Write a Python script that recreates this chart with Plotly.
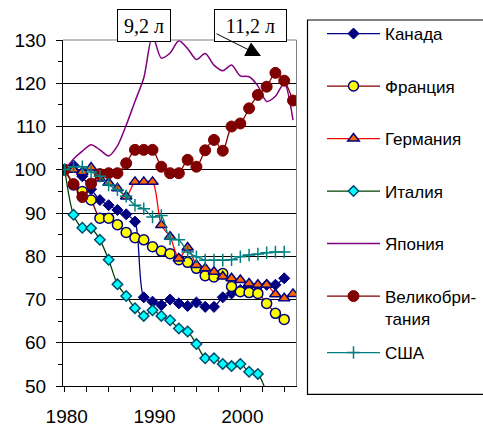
import plotly.graph_objects as go

years = list(range(1980, 2007))

canada = [100, 101, 98.5, 95.5, 93, 91.8, 90.7, 89.7, 88, 70.5, 69.5, 68.7, 70, 69.1,
          68.5, 69.3, 68.3, 68.3, 70.5, 71.4, 72.2, 73, 73, 73.4, 73.4, 74.9, None]
france = [100, 96.5, 95, 93, 88.8, 88.8, 87.3, 85.5, 84.3, 83.8, 82.2, 81.2, 80.6, 79.2,
          78.6, 77.2, 75.5, 75.2, 76, 73, 71.8, 71.6, 71.4, 69.1, 66.8, 65.4, None]
germany = [100, 100, 99.5, 100.5, 98, 97, 95.7, 93.8, 97.2, 97.2, 97.2, 87.2, 84.5, 79.5,
           82, 78, 77.2, 76.4, 75.3, 74.9, 74.5, 73.7, 73.4, 73.4, 71.2, 70.3, 71.3]
italy = [100, 89.6, 86.6, 86.5, 83.8, 79.2, 73.5, 70.8, 68, 66.2, 67.5, 66.2, 65.2, 63.3,
         62.6, 59.7, 56.4, 56.4, 55.1, 54.6, 55.1, 53.3, 52.8, 48.3, None, None, None]
japan = [100, 102.5, 104.3, 105.8, 104.6, 103.2, 105.5, 110.3, 115.8, 121.2, 131, 125.8,
         127, 129.8, 128, 125.5, 126.9, 124.2, 122.9, 124.2, 121.7, 121.5, 119.4, 115.8,
         117, 120, 111.5]
uk = [100, 96.7, 93.7, 96.8, 99, 99.2, 99.2, 101.5, 104.6, 104.6, 104.6, 100.7, 99.2, 99.2,
      102.3, 100.7, 104.5, 106.9, 104.4, 110, 110.7, 114.2, 117.3, 119.2, 122.4, 120.6, 116]
usa = [100, 100.7, 100.7, 99.5, 98.5, 96.5, 95.4, 93.9, 91.8, 91, 89.1, 89.4, 84, 83.8,
       81, 79.9, 79.1, 79.1, 79.1, 79.2, 79.9, 80.3, 80.5, 80.8, 81, 81, None]

y_ticks = [50, 60, 70, 80, 90, 100, 110, 120, 130]
x_ticks = [1980, 1990, 2000]
x_tick_labels = ["1980", "1990", "2000"]

FONT = "Liberation Sans, Arial, sans-serif"
SERIF = "Liberation Serif, Times New Roman, serif"

fig = go.Figure()

def add(name, vals, line_color, marker=None, legend="legend", lw=1.3):
    kw = dict(x=years, y=vals, name=name, legend=legend, legendgroup=name,
              line=dict(color=line_color, width=lw, shape="spline", smoothing=0.8),
              connectgaps=False)
    if marker:
        kw["mode"] = "lines+markers"
        kw["marker"] = marker
    else:
        kw["mode"] = "lines"
    fig.add_trace(go.Scatter(**kw))

add("Канада", canada, "#000080",
    dict(symbol="diamond", size=8.5, color="#000080", line=dict(color="#000080", width=1)))
add("Франция", france, "#800000",
    dict(symbol="circle", size=10, color="#FFFF00", line=dict(color="#000080", width=1.5)))
add("Германия", germany, "#FF0000",
    dict(symbol="triangle-up", size=10, color="#FF6600", line=dict(color="#000080", width=1.5)))
add("Италия", italy, "#004000",
    dict(symbol="diamond", size=8, color="#00FFFF", line=dict(color="#004C6E", width=1.5)))
add("Япония", japan, "#800080", None, lw=1.5)
add("Великобри-<br>тания", uk, "#800000",
    dict(symbol="circle", size=11, color="#800000", line=dict(color="#800000", width=1)))
add("США", usa, "#008080",
    dict(symbol="cross-thin", size=9, color="#008080", line=dict(color="#008080", width=1.5)),
    legend="legend2")

W, H = 483, 426
PL, PR, PT, PB = 63, 296.5, 40, 386  # plot area in pixels


def px(xp):
    return xp / W


def py(yp):
    return (H - yp) / H


fig.update_layout(
    width=W, height=H,
    margin=dict(l=0, r=0, t=0, b=0, pad=0, autoexpand=False),
    paper_bgcolor="white", plot_bgcolor="white",
    font=dict(family=FONT, size=17, color="black"),
    showlegend=True,
    legend=dict(x=px(322), y=py(16), xanchor="left", yanchor="top",
                bgcolor="rgba(0,0,0,0)", borderwidth=0, itemwidth=53,
                tracegroupgap=27.4, valign="top",
                font=dict(family=FONT, size=17, color="black")),
    legend2=dict(x=px(322), y=py(335), xanchor="left", yanchor="top",
                 bgcolor="rgba(0,0,0,0)", borderwidth=0, itemwidth=53,
                 font=dict(family=FONT, size=17, color="black")),
    xaxis=dict(domain=[px(PL), px(PR)], range=[1979.8, 2006.4], tickmode="array",
               tickvals=x_ticks, ticktext=x_tick_labels, ticks="outside", ticklen=5,
               tickwidth=1, tickcolor="black", showline=True, linecolor="black",
               linewidth=1, showgrid=False, zeroline=False, ticklabelstandoff=8,
               ticklabelshift=2,
               tickfont=dict(family=FONT, size=19, color="black"),
               minor=dict(tickmode="linear", tick0=1980, dtick=2.5, ticks="outside",
                          ticklen=5, tickcolor="black", showgrid=False)),
    yaxis=dict(domain=[py(PB), py(PT)], range=[50, 130], tickmode="array",
               tickvals=y_ticks, ticks="outside", ticklen=6, tickwidth=1,
               tickcolor="black", showline=True, linecolor="black", linewidth=1,
               showgrid=True, gridcolor="black", gridwidth=1, zeroline=False,
               ticklabelstandoff=6,
               tickfont=dict(family=FONT, size=19, color="black"),
               minor=dict(tickmode="linear", tick0=55, dtick=10, ticks="outside",
                          ticklen=4, tickcolor="black", showgrid=False)),
    shapes=[
        dict(type="line", xref="x domain", yref="y domain", x0=0, x1=1, y0=1, y1=1,
             line=dict(color="#808080", width=1), layer="above"),
        dict(type="line", xref="x domain", yref="y domain", x0=1, x1=1, y0=0, y1=1,
             line=dict(color="#808080", width=1), layer="above"),
        dict(type="rect", xref="paper", yref="paper", x0=px(307.5), x1=px(495),
             y0=py(394.3), y1=py(20), line=dict(color="black", width=1.2),
             fillcolor="rgba(0,0,0,0)", layer="above"),
    ],
    annotations=[
        dict(text="9,2 л", xref="paper", yref="paper", x=px(144), y=py(26),
             xanchor="center", yanchor="middle", showarrow=False,
             font=dict(family=SERIF, size=20, color="black"),
             bordercolor="black", borderwidth=1, bgcolor="white", borderpad=0,
             width=52, height=31),
        dict(text="11,2 л", xref="paper", yref="paper", x=px(250), y=py(26),
             xanchor="center", yanchor="middle", showarrow=False,
             font=dict(family=SERIF, size=20, color="black"),
             bordercolor="black", borderwidth=1, bgcolor="white", borderpad=0,
             width=71, height=31),
        dict(text="", xref="paper", yref="paper", x=px(261), y=py(56),
             ax=-46, ay=-23, showarrow=True, arrowhead=2, arrowsize=3,
             arrowwidth=1, arrowcolor="black", standoff=0),
    ],
)

fig.write_html("out.html",
               config={"displayModeBar": False},
               post_script="document.body.style.margin='0px';"
                           "document.body.style.padding='0px';")
